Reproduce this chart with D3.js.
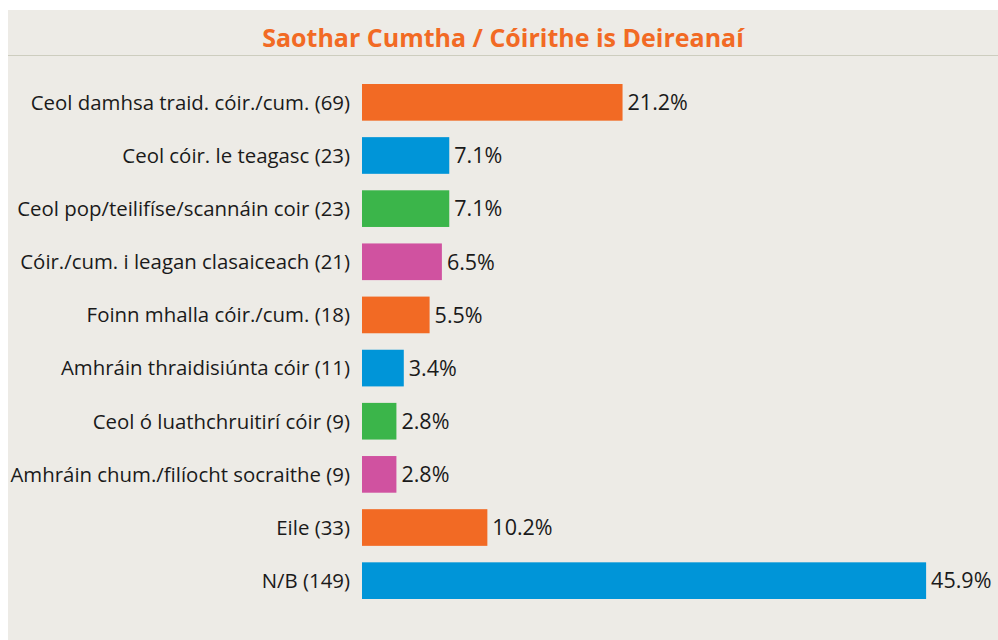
<!DOCTYPE html>
<html>
<head>
<meta charset="utf-8">
<script src="https://cdn.jsdelivr.net/npm/d3@7"></script>
<style>
  body { margin: 0; background: #fff; }
  text { font-family: "Open Sans", "Noto Sans", sans-serif; }
</style>
</head>
<body>
<svg id="chart" width="998" height="640"></svg>
<script>
var title = "Saothar Cumtha / Cóirithe is Deireanaí";
var categories = [
  "Ceol damhsa traid. cóir./cum. (69)",
  "Ceol cóir. le teagasc (23)",
  "Ceol pop/teilifíse/scannáin coir (23)",
  "Cóir./cum. i leagan clasaiceach (21)",
  "Foinn mhalla cóir./cum. (18)",
  "Amhráin thraidisiúnta cóir (11)",
  "Ceol ó luathchruitirí cóir (9)",
  "Amhráin chum./filíocht socraithe (9)",
  "Eile (33)",
  "N/B (149)"
];
var values = [21.2, 7.1, 7.1, 6.5, 5.5, 3.4, 2.8, 2.8, 10.2, 45.9];
var colors = ["#f26a24", "#0095d8", "#3bb54a", "#d052a0", "#f26a24", "#0095d8", "#3bb54a", "#d052a0", "#f26a24", "#0095d8"];

var svg = d3.select("#chart");

// background panel
svg.append("rect").attr("x", 8).attr("y", 10).attr("width", 990).attr("height", 630).attr("fill", "#edebe6");
svg.append("line").attr("x1", 8).attr("x2", 998).attr("y1", 55.5).attr("y2", 55.5)
  .attr("stroke", "#cdcdbf").attr("stroke-width", 1);

svg.append("text").attr("x", 503).attr("y", 47).attr("text-anchor", "middle")
  .attr("fill", "#f26a24").attr("font-size", 25).attr("font-weight", "bold")
  .text(title);

var x = d3.scaleLinear().domain([0, 50]).range([362, 362 + 614.5]);
var y = d3.scaleBand().domain(categories).range([75.5, 607.5]).paddingInner(0.31).paddingOuter(0.16);

var rows = svg.append("g").selectAll("g").data(categories).enter().append("g");

rows.append("rect")
  .attr("x", x(0))
  .attr("y", function(d) { return y(d); })
  .attr("width", function(d, i) { return x(values[i]) - x(0); })
  .attr("height", y.bandwidth())
  .attr("fill", function(d, i) { return colors[i]; });

rows.append("text")
  .attr("x", 350)
  .attr("y", function(d) { return y(d) + y.bandwidth() / 2; })
  .attr("dy", "0.36em")
  .attr("text-anchor", "end")
  .attr("font-size", 20.4)
  .attr("fill", "#1a1a1a")
  .text(function(d) { return d; });

rows.append("text")
  .attr("x", function(d, i) { return x(values[i]) + 5; })
  .attr("y", function(d) { return y(d) + y.bandwidth() / 2; })
  .attr("dy", "0.36em")
  .attr("font-size", 21.5)
  .attr("fill", "#1a1a1a")
  .text(function(d, i) { return values[i].toFixed(1) + "%"; });
</script>
</body>
</html>
